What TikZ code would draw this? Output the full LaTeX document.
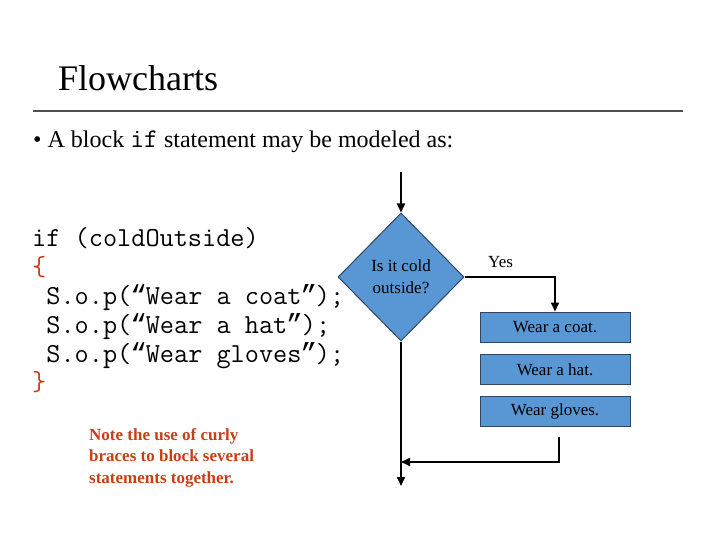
\documentclass[tikz,border=0pt]{standalone}
\usepackage{fontspec}
\setmainfont{Liberation Serif}
\newfontfamily\quotefont{Liberation Mono}
\usetikzlibrary{shapes.geometric,arrows.meta}
\definecolor{boxblue}{RGB}{88,150,212}
\definecolor{boxedge}{RGB}{50,70,100}
\definecolor{notered}{RGB}{200,62,24}
\definecolor{rulegray}{RGB}{80,80,80}
\newcommand{\oq}{\makebox[0.525em][c]{\quotefont “}}
\newcommand{\cq}{\makebox[0.525em][c]{\quotefont ”}}
\tikzset{
  codeline/.style={anchor=base west, inner sep=0pt, font=\fontsize{27.5}{30}\ttfamily},
  flowbox/.style={draw=boxedge, line width=1pt, fill=boxblue, minimum width=150pt, minimum height=30pt, inner sep=0pt, font=\fontsize{17}{20}\selectfont},
  decision/.style={diamond, draw=boxedge, line width=1pt, fill=boxblue, minimum width=126pt, minimum height=128pt, inner sep=0pt, align=center, font=\fontsize{17}{22}\selectfont},
  conn/.style={line width=1.8pt, black},
  arr/.style={conn, -{Triangle[length=9pt,width=8pt]}},
  notetext/.style={anchor=base west, inner sep=0pt, text=notered, font=\fontsize{17}{21.5}\selectfont\bfseries, align=left}
}
\begin{document}
\begin{tikzpicture}[x=1pt,y=-1pt]
\useasboundingbox (0,0) rectangle (720,540);
% title
\node[anchor=base west, inner sep=0pt, font=\fontsize{36}{40}\selectfont] (title) at (58,91) {Flowcharts};
\draw[rulegray, line width=2pt] (33,111) -- (683,111);
\node[anchor=base west, inner sep=0pt, font=\fontsize{24}{28}\selectfont] (bullet) at (33,148) {\textbullet\ A block {\fontsize{27}{28}\ttfamily if} statement may be modeled as:};
% code
\node[codeline] (c1) at (32,247) {if (coldOutside)};
\node[codeline, text=notered] (c2) at (32,275) {\{};
\node[codeline] (c3) at (32,304) {\ S.o.p(\oq Wear a coat\cq);};
\node[codeline] (c4) at (32,333) {\ S.o.p(\oq Wear a hat\cq);};
\node[codeline] (c5) at (32,362) {\ S.o.p(\oq Wear gloves\cq);};
\node[codeline, text=notered] (c6) at (32,390) {\}};
% note
\node[notetext] (note) at (89,483) {Note the use of curly\\braces to block several\\statements together.};
% flowchart
\node[decision] (dia) at (401,277) {Is it cold\\outside?};
\node[flowbox] (b1) at (555,327) {Wear a coat.};
\node[flowbox] (b2) at (555,369.5) {Wear a hat.};
\node[flowbox] (b3) at (555,411.5) {Wear gloves.};
\node[anchor=base west, inner sep=0pt, font=\fontsize{17}{20}\selectfont] (yes) at (488,267) {Yes};
\coordinate (start) at (401,172);
\coordinate (stop) at (401,486);
\coordinate (ret) at (559,437);
\coordinate (join) at (401,462);
\draw[arr] (start) -- (dia.north);
\draw[arr] (dia.east) -| (b1.north);
\draw[arr] (dia.south) -- (stop);
\draw[arr] (ret) |- (join);
\end{tikzpicture}
\end{document}
